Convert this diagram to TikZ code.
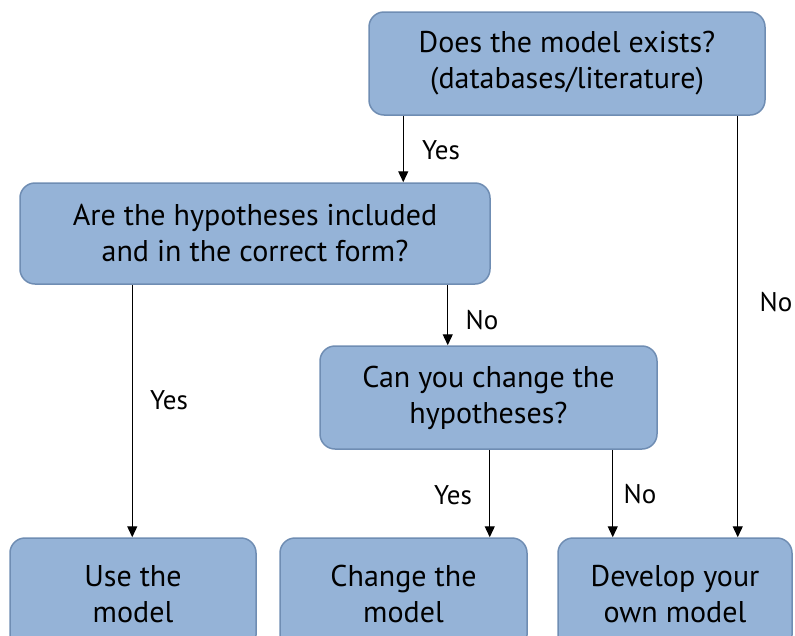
\documentclass[tikz,border=0pt]{standalone}
\usepackage{fontspec}
\setmainfont{PT Sans}
\usetikzlibrary{arrows.meta}
\definecolor{boxfill}{HTML}{95B3D7}
\definecolor{boxline}{HTML}{6F8DB3}
\tikzset{
  qbox/.style={draw=boxline, fill=boxfill, line width=1.5pt, rounded corners=15pt,
    align=center, inner sep=0pt, font=\fontsize{30}{36}\selectfont},
  arr/.style={line width=1.3pt, -{Triangle[length=11pt,width=10pt]}},
  lbl/.style={font=\fontsize{27}{30}\selectfont, inner sep=0pt}
}
\begin{document}
\begin{tikzpicture}[x=1pt,y=-1pt]
\useasboundingbox (0,0) rectangle (795,635);
\clip (0,0) rectangle (795,635);
% decision boxes
\node[qbox, minimum width=396pt, minimum height=103pt] (A) at (567,63.5)
  {Does the model exists?\\(databases/literature)};
\node[qbox, minimum width=470pt, minimum height=101pt] (B) at (255,233.5)
  {Are the hypotheses included\\and in the correct form?};
\node[qbox, minimum width=337pt, minimum height=103pt] (C) at (488.5,397.5)
  {Can you change the\\hypotheses?};
% outcome boxes, running past the lower edge
\node[qbox, minimum width=246pt, minimum height=112pt] (D) at (133,594)
  {Use the\\model};
\node[qbox, minimum width=247pt, minimum height=112pt] (E) at (403.5,594)
  {Change the\\model};
\node[qbox, minimum width=234pt, minimum height=112pt] (F) at (675,594)
  {Develop your\\own model};
% connectors
\draw[arr] ([xshift=35pt]A.south west) -- ([xshift=35pt]A.south west |- B.north);
\draw[arr] ([xshift=-28pt]A.south east) -- ([xshift=-28pt]A.south east |- F.north);
\draw[arr] ([xshift=113pt]B.south west) -- ([xshift=113pt]B.south west |- D.north);
\draw[arr] ([xshift=-43pt]B.south east) -- ([xshift=-43pt]B.south east |- C.north);
\draw[arr] ([xshift=-168pt]C.south east) -- ([xshift=-168pt]C.south east |- E.north);
\draw[arr] ([xshift=-45pt]C.south east) -- ([xshift=-45pt]C.south east |- F.north);
% labels
\node[lbl] (l1) at (441,150) {Yes};
\node[lbl] (l2) at (776,302) {No};
\node[lbl] (l3) at (169,400) {Yes};
\node[lbl] (l4) at (482,320) {No};
\node[lbl] (l5) at (453,495) {Yes};
\node[lbl] (l6) at (640,494) {No};
\end{tikzpicture}
\end{document}
